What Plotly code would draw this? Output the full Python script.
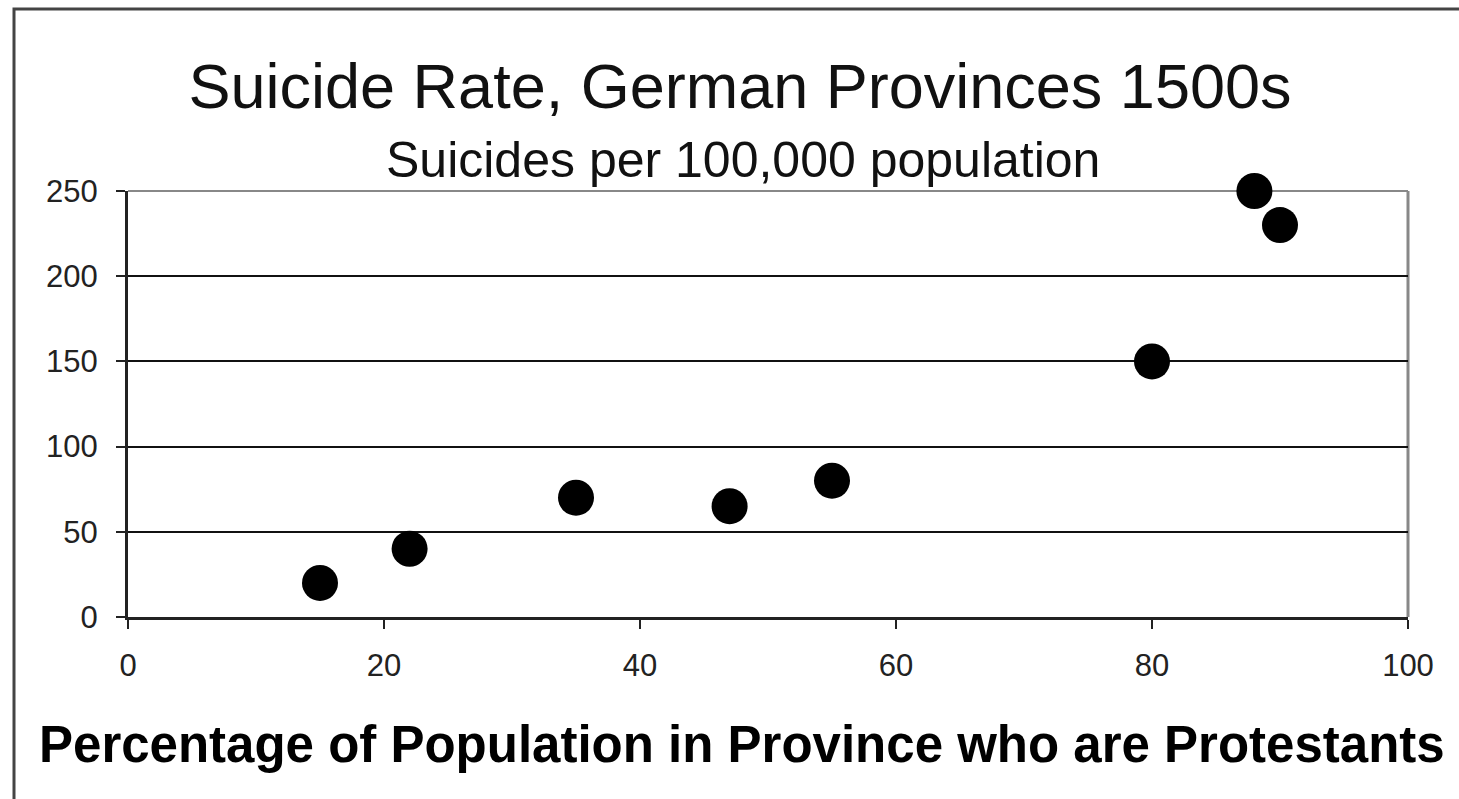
import plotly.graph_objects as go

protestant_pct = [15, 22, 35, 47, 55, 80, 88, 90]
suicide_rate = [20, 40, 70, 65, 80, 150, 250, 230]
x_ticks = [0, 20, 40, 60, 80, 100]
y_ticks = [0, 50, 100, 150, 200, 250]

W, H = 1459, 799
L, R, T, B = 128, 1408, 191, 617

fig = go.Figure()
fig.add_trace(go.Scatter(
    x=protestant_pct, y=suicide_rate, mode="markers",
    marker=dict(color="black", size=36, line=dict(width=0)),
    cliponaxis=False, showlegend=False,
))

tickfont = dict(family="Liberation Sans, Arial", size=31, color="#222")

fig.update_layout(
    width=W, height=H,
    margin=dict(l=L, r=W - R, t=T, b=H - B),
    paper_bgcolor="white", plot_bgcolor="white",
    title=dict(
        text="Suicide Rate, German Provinces 1500s",
        x=740 / W, xanchor="center", xref="container",
        y=1 - 86 / H, yanchor="middle", yref="container",
        font=dict(family="Liberation Sans, Arial", size=63, color="#111"),
    ),
    xaxis=dict(
        range=[0, 100], tickvals=x_ticks, ticks="outside", ticklen=9, tickwidth=2,
        tickcolor="#222", showline=True, linecolor="#222", linewidth=3,
        showgrid=False, zeroline=False, tickfont=tickfont, ticklabelstandoff=10,
    ),
    yaxis=dict(
        range=[0, 250], tickvals=y_ticks, ticks="outside", ticklen=9, tickwidth=2,
        tickcolor="#222", showline=True, linecolor="#222", linewidth=3,
        showgrid=True, gridcolor="#111", gridwidth=2, zeroline=False,
        tickfont=tickfont, ticklabelstandoff=12,
    ),
    annotations=[
        dict(text="Suicides per 100,000 population", xref="paper", yref="paper",
             x=(743 - L) / (R - L), y=(B - 160) / (B - T), xanchor="center", yanchor="middle",
             showarrow=False, font=dict(family="Liberation Sans, Arial", size=50, color="#111")),
        dict(text="<b>Percentage of Population in Province who are Protestants</b>",
             xref="paper", yref="paper",
             x=(742 - L) / (R - L), y=(B - 744) / (B - T), xanchor="center", yanchor="middle",
             showarrow=False, font=dict(family="Liberation Sans, Arial", size=51, color="#000")),
    ],
    shapes=[
        dict(type="line", xref="paper", yref="paper", x0=0, x1=1, y0=1, y1=1,
             line=dict(color="#888", width=2), layer="below"),
        dict(type="line", xref="paper", yref="paper", x0=1, x1=1, y0=0, y1=1,
             line=dict(color="#888", width=3), layer="below"),
        dict(type="rect", xref="paper", yref="paper",
             x0=(14 - L) / (R - L), x1=1.2, y0=-1.0, y1=(B - 9) / (B - T),
             line=dict(color="#444", width=3), layer="below"),
    ],
)

fig.write_html("out.html")
